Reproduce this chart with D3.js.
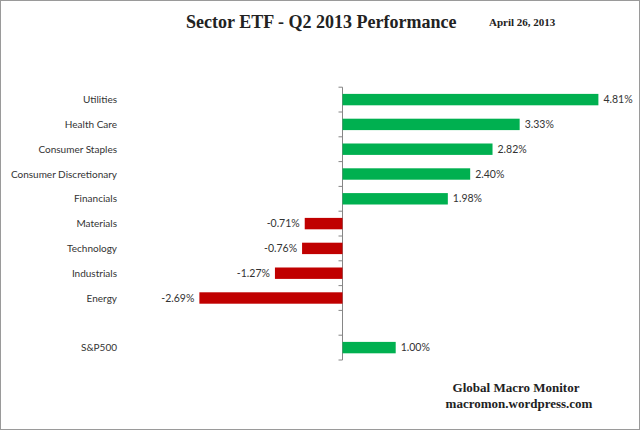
<!DOCTYPE html>
<html>
<head>
<meta charset="utf-8">
<script src="https://cdn.jsdelivr.net/npm/d3@7"></script>
<style>
  html, body { margin: 0; padding: 0; background: #fff; }
  svg { display: block; }
  .cat { font-family: Lato, "Open Sans", sans-serif; font-size: 10px; fill: #333; }
  .val { font-family: Lato, "Open Sans", sans-serif; font-size: 10.5px; fill: #333; }
</style>
</head>
<body>
<div id="chart"></div>
<script>
/* === Sector ETF horizontal bar chart === */

var categories = ['Utilities', 'Health Care', 'Consumer Staples', 'Consumer Discretionary',
    'Financials', 'Materials', 'Technology', 'Industrials', 'Energy', '', 'S&P500'];
var values = [4.81, 3.33, 2.82, 2.40, 1.98, -0.71, -0.76, -1.27, -2.69, null, 1.00];
var valueLabels = ['4.81%', '3.33%', '2.82%', '2.40%', '1.98%', '-0.71%', '-0.76%', '-1.27%', '-2.69%', '', '1.00%'];

var width = 640, height = 430;

var svg = d3.select('#chart')
    .append('svg')
    .attr('width', width)
    .attr('height', height);

// Frame
svg.append('rect')
    .attr('x', 0.5).attr('y', 0.5)
    .attr('width', width - 1).attr('height', height - 1)
    .attr('fill', '#fff')
    .attr('stroke', '#9a9a9a');

var x = d3.scaleLinear().domain([-3, 5]).range([182.9, 608.5]);
var y = d3.scaleBand()
    .domain(categories.map(function(d, i) { return i; }))
    .range([87.2, 360])
    .paddingInner(0.54)
    .paddingOuter(0.27);
var step = y.step();

// Axis line and ticks at band boundaries
var x0 = x(0);
svg.append('line')
    .attr('x1', x0).attr('x2', x0)
    .attr('y1', 87.2).attr('y2', 360)
    .attr('stroke', '#868686');
d3.range(categories.length + 1).forEach(function(i) {
    var ty = 87.2 + i * step;
    svg.append('line')
        .attr('x1', x0 - 4).attr('x2', x0)
        .attr('y1', ty).attr('y2', ty)
        .attr('stroke', '#868686');
});

// Bars
categories.forEach(function(c, i) {
    var v = values[i];
    if (v === null) return;
    svg.append('rect')
        .attr('x', Math.min(x(v), x0))
        .attr('y', y(i))
        .attr('width', Math.abs(x(v) - x0))
        .attr('height', y.bandwidth())
        .attr('fill', v >= 0 ? '#00b050' : '#c00000');
    svg.append('text')
        .attr('class', 'val')
        .attr('x', v >= 0 ? x(v) + 5 : x(v) - 5)
        .attr('y', y(i) + y.bandwidth() / 2)
        .attr('dy', '0.35em')
        .attr('text-anchor', v >= 0 ? 'start' : 'end')
        .text(valueLabels[i]);
});

// Category labels
categories.forEach(function(c, i) {
    svg.append('text')
        .attr('class', 'cat')
        .attr('x', 117)
        .attr('y', y(i) + y.bandwidth() / 2)
        .attr('dy', '0.35em')
        .attr('text-anchor', 'end')
        .text(c);
});

// Titles
svg.append('text')
    .attr('x', 186).attr('y', 28)
    .style('font-family', '"Liberation Serif", "DejaVu Serif", serif')
    .style('font-weight', 'bold')
    .style('font-size', '18px')
    .attr('fill', '#222')
    .text('Sector ETF - Q2 2013 Performance');
svg.append('text')
    .attr('x', 489).attr('y', 26)
    .style('font-family', '"Liberation Serif", "DejaVu Serif", serif')
    .style('font-weight', 'bold')
    .style('font-size', '11px')
    .attr('fill', '#222')
    .text('April 26, 2013');

// Footer
svg.append('text')
    .attr('x', 516).attr('y', 392)
    .attr('text-anchor', 'middle')
    .style('font-family', '"Liberation Serif", "DejaVu Serif", serif')
    .style('font-weight', 'bold')
    .style('font-size', '13px')
    .attr('fill', '#222')
    .text('Global Macro Monitor');
svg.append('text')
    .attr('x', 519).attr('y', 408)
    .attr('text-anchor', 'middle')
    .style('font-family', '"Liberation Serif", "DejaVu Serif", serif')
    .style('font-weight', 'bold')
    .style('font-size', '13px')
    .attr('fill', '#222')
    .text('macromon.wordpress.com');
</script>
</body>
</html>
